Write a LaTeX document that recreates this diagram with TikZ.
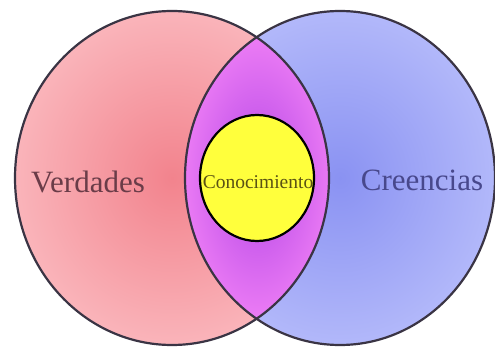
\documentclass[tikz,border=0pt]{standalone}
\usepackage{fontspec}
\setmainfont{Liberation Serif}
\definecolor{pinkin}{HTML}{F2838D}
\definecolor{pinkout}{HTML}{FAB4BA}
\definecolor{bluein}{HTML}{8A92F2}
\definecolor{blueout}{HTML}{B2B8FA}
\definecolor{lensin}{HTML}{B446E6}
\definecolor{lensout}{HTML}{F080F6}
\definecolor{yel}{HTML}{FFFF3C}
\definecolor{edge}{HTML}{3A3444}
\definecolor{vtext}{HTML}{6A3C48}
\definecolor{ctext}{HTML}{48488C}
\definecolor{ktext}{HTML}{5A5214}
\tikzset{
  outline/.style={draw=edge, line width=2.2pt},
  lbl/.style={inner sep=0pt, font=\fontsize{31}{31}\selectfont},
}
\begin{document}
\begin{tikzpicture}[x=1pt,y=-1pt]
\useasboundingbox (0,0) rectangle (495,347);
\fill[white] (0,0) rectangle (495,347);
% left circle
\shade[inner color=pinkin, outer color=pinkout] (172,178) ellipse [x radius=157, y radius=167];
% right circle
\shade[inner color=bluein, outer color=blueout] (340,178) ellipse [x radius=155, y radius=167];
% lens
\begin{scope}
  \clip (172,178) ellipse [x radius=157, y radius=167];
  \clip (340,178) ellipse [x radius=155, y radius=167];
  \shade[inner color=lensin, outer color=lensout] (258,178) ellipse [x radius=82, y radius=152];
\end{scope}
\draw[outline] (172,178) ellipse [x radius=157, y radius=167];
\draw[outline] (340,178) ellipse [x radius=155, y radius=167];
% yellow
\fill[yel, draw=black, line width=2.2pt] (257,178) ellipse [x radius=57, y radius=63];
\node[lbl, text=vtext] (ver) at (88,182) {Verdades};
\node[lbl, text=ctext] (cre) at (422,180) {Creencias};
\node[inner sep=0pt, text=ktext, font=\fontsize{19.5}{19.5}\selectfont] (con) at (258,182) {Conocimiento};
\end{tikzpicture}
\end{document}
